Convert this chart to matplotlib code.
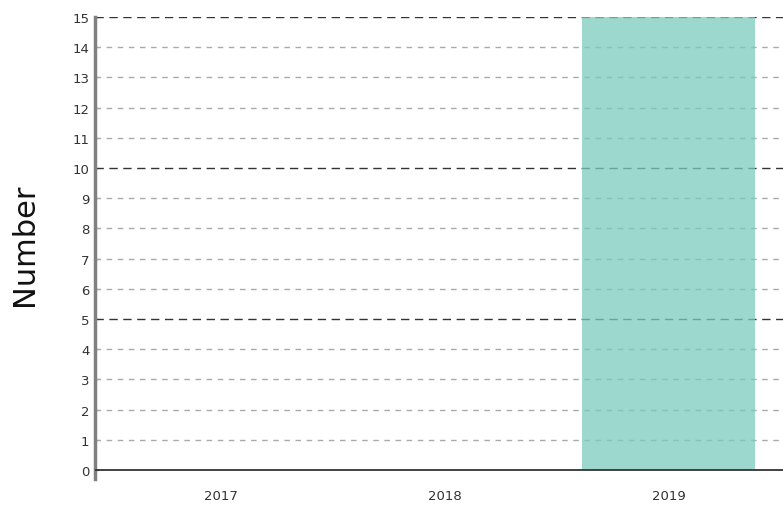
import matplotlib
matplotlib.use('Agg')
import matplotlib.pyplot as plt

#data
years = ['2017', '2018', '2019']
counts = [0, 0, 15]
y_ticks = list(range(0, 16))

fig = plt.figure(figsize=(7.83, 5.06), dpi=100)
W, H = 783.0, 506.0
ax = fig.add_axes([95/W, 1-480/H, (794-95)/W, (480-18)/H])

x = range(len(years))
ax.bar(x, counts, width=0.77, color='#7ccbc0', alpha=0.75, zorder=3)

#grid lines, darker every 5 (seen through the bar)
for v in y_ticks[1:]:
    if v % 5 == 0:
        ax.axhline(v, color='#333333', lw=1.0, ls=(0, (6, 4)), zorder=2)
    else:
        ax.axhline(v, color='#aaaaaa', lw=1.0, ls=(0, (4, 4)), zorder=2)
ax.axhline(0, color='#333333', lw=1.3, zorder=4)

ax.set_xlim(-0.56, 2.56)
ax.set_ylim(-0.3, 15)
ax.set_xticks(list(x))
ax.set_xticklabels(years, fontsize=9.5, color='#333333')
ax.set_yticks(y_ticks)
ax.set_yticklabels([str(v) for v in y_ticks], fontsize=9.5, color='#333333')
ax.tick_params(axis='x', length=0, pad=7)
ax.tick_params(axis='y', length=3, direction='in', color='#333333', pad=4)

for s in ['top', 'right', 'bottom']:
    ax.spines[s].set_visible(False)
ax.spines['left'].set_color('#808080')
ax.spines['left'].set_linewidth(2.5)

fig.text(25/W, 1-245/H, 'Number', rotation=90, fontsize=22, color='#111111',
         ha='center', va='center')

plt.savefig('out.png', dpi=100)
